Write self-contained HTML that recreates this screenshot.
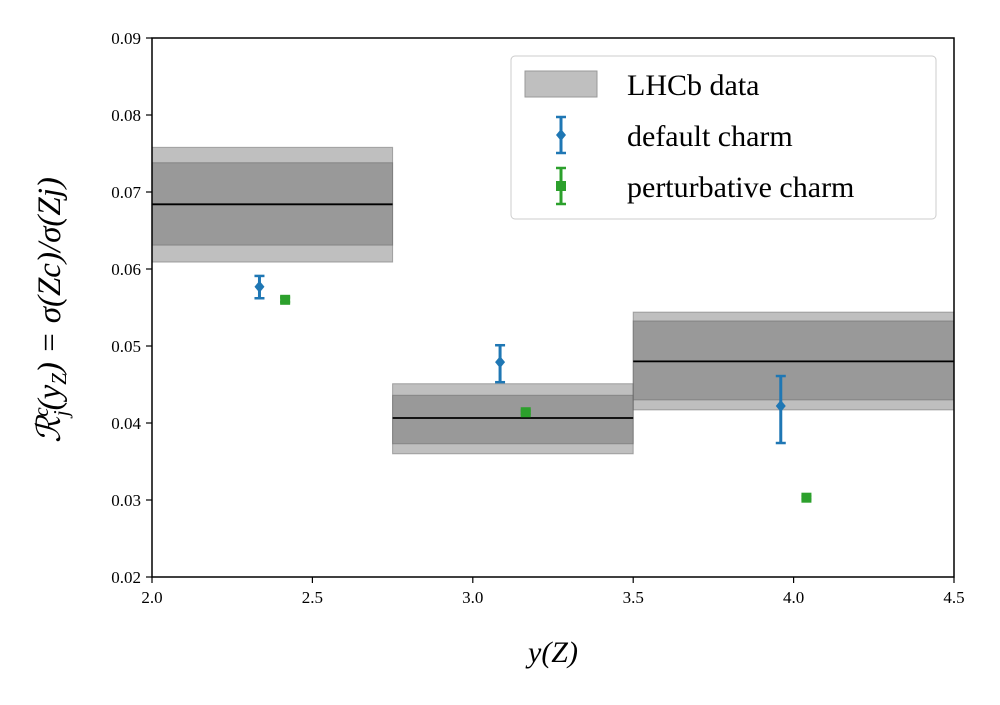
<!DOCTYPE html>
<html><head><meta charset="utf-8"><style>
body{margin:0;background:#fff}
svg text{font-family:"Liberation Serif","DejaVu Serif",serif;fill:#000}
</style></head><body>
<svg id="chart" width="1000" height="700" xmlns="http://www.w3.org/2000/svg">
<g id="bands"></g>
<g id="points"></g>
<g id="axes"></g>
<text x="553" y="662" font-size="30" text-anchor="middle" font-style="italic">y(Z)</text>
<text transform="translate(60,310) rotate(-90)" font-size="33" text-anchor="middle" font-style="italic">ℛ<tspan font-size="21" dy="-12">c</tspan><tspan font-size="21" dy="20" dx="-9">j</tspan><tspan dy="-8">(y</tspan><tspan font-size="21" dy="6">Z</tspan><tspan dy="-6">) = σ(Zc)/σ(Zj)</tspan></text>
<g>
<rect x="511" y="56" width="425" height="163" rx="4" fill="#fff" stroke="#ccc" stroke-width="1"/>
<g>
<rect x="525" y="71" width="72" height="26" fill="#bfbfbf" stroke="#999"/>
<text x="627" y="95" font-size="30">LHCb data</text></g>
<g>
<line x1="561" y1="117" x2="561" y2="153" stroke="#1f77b4" stroke-width="3"/>
<line x1="556" y1="117" x2="566" y2="117" stroke="#1f77b4" stroke-width="2.5"/>
<line x1="556" y1="153" x2="566" y2="153" stroke="#1f77b4" stroke-width="2.5"/>
<path d="M561 129 L566 135 L561 141 L556 135Z" fill="#1f77b4"/>
<text x="627" y="146" font-size="30">default charm</text></g>
<g>
<line x1="561" y1="168" x2="561" y2="204" stroke="#2ca02c" stroke-width="3"/>
<line x1="556" y1="168" x2="566" y2="168" stroke="#2ca02c" stroke-width="2.5"/>
<line x1="556" y1="204" x2="566" y2="204" stroke="#2ca02c" stroke-width="2.5"/>
<rect x="556" y="181" width="10" height="10" fill="#2ca02c"/>
<text x="627" y="197" font-size="30">perturbative charm</text></g>
</g>
</svg>
<script>
const binLo=[2.0,2.75,3.5];
const binHi=[2.75,3.5,4.5];
const dataCentral=[0.0684,0.04065,0.0480];
const innerHi=[0.0738,0.0436,0.05325];
const innerLo=[0.0631,0.0373,0.0430];
const outerHi=[0.0758,0.0451,0.0544];
const outerLo=[0.0609,0.0360,0.0417];
const defX=[2.335,3.085,3.96];
const defY=[0.0577,0.0479,0.0422];
const defErrHi=[0.0591,0.0501,0.0461];
const defErrLo=[0.0562,0.0453,0.0374];
const pertX=[2.415,3.165,4.04];
const pertY=[0.0560,0.0414,0.0303];
const pertErrHi=[0.0563,0.0416,0.0305];
const pertErrLo=[0.0557,0.0412,0.0301];
const xTicks=[2.0,2.5,3.0,3.5,4.0,4.5];
const xTickLabels=["2.0","2.5","3.0","3.5","4.0","4.5"];
const yTicks=[0.02,0.03,0.04,0.05,0.06,0.07,0.08,0.09];
const yTickLabels=["0.02","0.03","0.04","0.05","0.06","0.07","0.08","0.09"];

const X0=152,X1=954,Y0=577,Y1=38;
const sx=v=>X0+(v-2.0)/(4.5-2.0)*(X1-X0);
const sy=v=>Y0-(v-0.02)/(0.09-0.02)*(Y0-Y1);
const NS="http://www.w3.org/2000/svg";
function mk(parent,tag,attrs){const e=document.createElementNS(NS,tag);for(const k in attrs)e.setAttribute(k,attrs[k]);parent.appendChild(e);return e;}
const bands=document.getElementById('bands');
for(let i=0;i<binLo.length;i++){
  const o=mk(bands,'rect',{x:sx(binLo[i]),y:sy(outerHi[i]),width:sx(binHi[i])-sx(binLo[i]),height:sy(outerLo[i])-sy(outerHi[i]),fill:'rgba(128,128,128,0.5)',stroke:'rgba(100,100,100,0.5)'});
  
  
  const n=mk(bands,'rect',{x:sx(binLo[i]),y:sy(innerHi[i]),width:sx(binHi[i])-sx(binLo[i]),height:sy(innerLo[i])-sy(innerHi[i]),fill:'rgba(128,128,128,0.6)',stroke:'rgba(100,100,100,0.5)'});
  
  
  const l=mk(bands,'line',{x1:sx(binLo[i]),x2:sx(binHi[i]),y1:sy(dataCentral[i]),y2:sy(dataCentral[i]),stroke:'#000','stroke-width':1.8});
  
  
}
const pts=document.getElementById('points');
function errbar(x,lo,hi,c){
  mk(pts,'line',{x1:sx(x),x2:sx(x),y1:sy(hi),y2:sy(lo),stroke:c,'stroke-width':3});
  mk(pts,'line',{x1:sx(x)-5,x2:sx(x)+5,y1:sy(hi),y2:sy(hi),stroke:c,'stroke-width':2.5});
  mk(pts,'line',{x1:sx(x)-5,x2:sx(x)+5,y1:sy(lo),y2:sy(lo),stroke:c,'stroke-width':2.5});
}
for(let i=0;i<defX.length;i++){
  errbar(defX[i],defErrLo[i],defErrHi[i],'#1f77b4');
  const x=sx(defX[i]),y=sy(defY[i]);
  const p=mk(pts,'path',{d:`M${x} ${y-6} L${x+5} ${y} L${x} ${y+6} L${x-5} ${y}Z`,fill:'#1f77b4'});
  
  
}
for(let i=0;i<pertX.length;i++){
  errbar(pertX[i],pertErrLo[i],pertErrHi[i],'#2ca02c');
  const p=mk(pts,'rect',{x:sx(pertX[i])-5,y:sy(pertY[i])-5,width:10,height:10,fill:'#2ca02c'});
  
  
}
const ax=document.getElementById('axes');
mk(ax,'rect',{x:X0,y:Y1,width:X1-X0,height:Y0-Y1,fill:'none',stroke:'#000','stroke-width':1.5});
xTicks.forEach((t,i)=>{
  mk(ax,'line',{x1:sx(t),x2:sx(t),y1:Y0,y2:Y0+6,stroke:'#000','stroke-width':1.2});
  const tx=mk(ax,'text',{x:sx(t),y:Y0+26,'font-size':17,'text-anchor':'middle'});
  tx.textContent=xTickLabels[i];
  
  
});
yTicks.forEach((t,i)=>{
  mk(ax,'line',{x1:X0-6,x2:X0,y1:sy(t),y2:sy(t),stroke:'#000','stroke-width':1.2});
  const tx=mk(ax,'text',{x:X0-11,y:sy(t)+6,'font-size':17,'text-anchor':'end'});
  tx.textContent=yTickLabels[i];
  
  
});
</script>
</body></html>
